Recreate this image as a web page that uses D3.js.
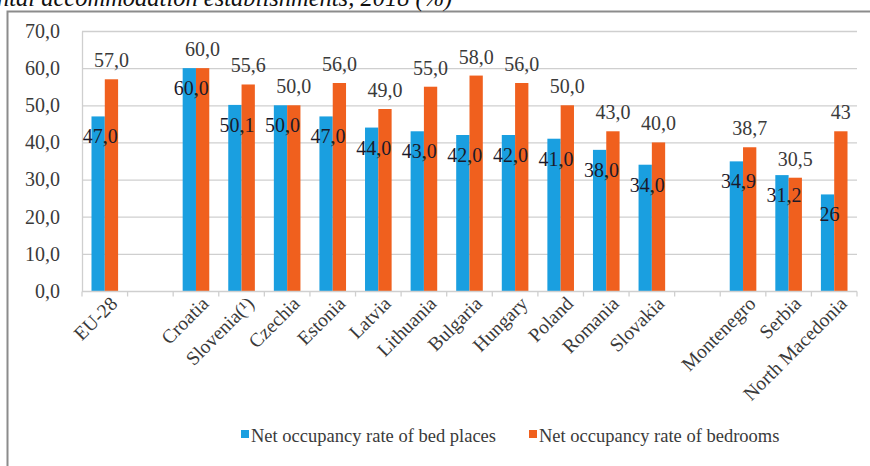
<!DOCTYPE html>
<html>
<head>
<meta charset="utf-8">
<script src="https://cdn.jsdelivr.net/npm/d3@7"></script>
<style>
  html, body { margin: 0; padding: 0; background: #fff; }
  svg text { font-family: "Liberation Serif", "Times New Roman", serif; }
</style>
</head>
<body>
<svg id="chart" width="870" height="466"></svg>
<script>
// Categories in display order; empty strings leave a gap between groups.
const categories = ["EU-28", "", "Croatia", "Slovenia(\u00B9)", "Czechia", "Estonia", "Latvia",
  "Lithuania", "Bulgaria", "Hungary", "Poland", "Romania", "Slovakia", "",
  "Montenegro", "Serbia", "North Macedonia"];
const bedPlaces = [47.0, null, 60.0, 50.1, 50.0, 47.0, 44.0, 43.0, 42.0, 42.0, 41.0, 38.0, 34.0, null, 34.9, 31.2, 26];
const bedrooms  = [57.0, null, 60.0, 55.6, 50.0, 56.0, 49.0, 55.0, 58.0, 56.0, 50.0, 43.0, 40.0, null, 38.7, 30.5, 43];
// Decimal places shown in each category's value labels.
const labelDecimals = [1, 1, 1, 1, 1, 1, 1, 1, 1, 1, 1, 1, 1, 1, 1, 1, 0];
const yTicks = [0, 10, 20, 30, 40, 50, 60, 70];
const seriesNames = ["Net occupancy rate of bed places", "Net occupancy rate of bedrooms"];

const colors = ["#1a9fe0", "#f0601e"];
const FONT = "Liberation Serif, Times New Roman, serif";
const svg = d3.select("#chart");

const plot = { left: 82, right: 857, top: 31, bottom: 291 };

const fmt = (v, d) => v.toFixed(d).replace(".", ",");

// Outer chart frame
svg.append("rect")
  .attr("x", 7.5).attr("y", 11.5).attr("width", 900).attr("height", 500)
  .attr("fill", "#fff").attr("stroke", "#8c8c8c").attr("stroke-width", 2);

// Heading, partly above the frame
svg.append("text")
  .attr("x", -3).attr("y", 6)
  .attr("font-family", FONT)
  .attr("font-size", 24.5).attr("font-style", "italic").attr("fill", "#111")
  .text("ntal  accommodation establishments, 2018 (%)");

const x = d3.scaleBand().domain(d3.range(categories.length)).range([plot.left, plot.right]).padding(0);
const y = d3.scaleLinear().domain([0, 70]).range([plot.bottom, plot.top]);
const barW = 13.3;

// Gridlines
svg.append("g").selectAll("line").data(yTicks.filter(t => t > 0)).join("line")
  .attr("x1", plot.left).attr("x2", plot.right)
  .attr("y1", d => y(d) + 0.5).attr("y2", d => y(d) + 0.5)
  .attr("stroke", "#cfcfcf").attr("stroke-width", 1.3);

// Y axis
const yAxis = svg.append("g").attr("transform", `translate(${plot.left},0)`)
  .call(d3.axisLeft(y).tickValues(yTicks).tickSize(0).tickPadding(22).tickFormat(d => fmt(d, 1)));
yAxis.attr("font-family", FONT);
yAxis.select(".domain").attr("stroke", "#cfcfcf").attr("stroke-width", 1.3);
yAxis.selectAll("text").attr("font-size", 20).attr("fill", "#3a3a3a");

// Bars
const idx = d3.range(categories.length).filter(i => bedPlaces[i] != null);
const gBars = svg.append("g");
gBars.selectAll("rect.bed").data(idx).join("rect").attr("class", "bed")
  .attr("x", i => x(i) + x.bandwidth() / 2 - barW)
  .attr("width", barW)
  .attr("y", i => y(bedPlaces[i]))
  .attr("height", i => y(0) - y(bedPlaces[i]))
  .attr("fill", colors[0]);
gBars.selectAll("rect.room").data(idx).join("rect").attr("class", "room")
  .attr("x", i => x(i) + x.bandwidth() / 2)
  .attr("width", barW)
  .attr("y", i => y(bedrooms[i]))
  .attr("height", i => y(0) - y(bedrooms[i]))
  .attr("fill", colors[1]);

// X axis line and ticks
const gx = svg.append("g").attr("transform", `translate(0,${plot.bottom + 0.5})`);
gx.append("line").attr("x1", plot.left).attr("x2", plot.right)
  .attr("stroke", "#cfcfcf").attr("stroke-width", 1.3);
gx.selectAll("line.tick").data(d3.range(categories.length + 1)).join("line").attr("class", "tick")
  .attr("x1", i => plot.left + i * x.bandwidth()).attr("x2", i => plot.left + i * x.bandwidth())
  .attr("y1", 0).attr("y2", 5).attr("stroke", "#cfcfcf").attr("stroke-width", 1.3);

// Category labels
svg.append("g").attr("font-family", FONT)
  .selectAll("text").data(d3.range(categories.length).filter(i => categories[i])).join("text")
  .attr("transform", i => `translate(${x(i) + x.bandwidth() / 2 + 9},${plot.bottom + 9}) rotate(-45)`)
  .attr("text-anchor", "end").attr("dy", "0.35em")
  .attr("font-size", 19.5).attr("fill", "#3a3a3a")
  .text(i => categories[i]);

// Value labels
const gLab = svg.append("g").attr("font-family", FONT).attr("font-size", 20).attr("text-anchor", "middle");
gLab.selectAll("text.bed").data(idx).join("text").attr("class", "bed")
  .attr("x", i => x(i) + x.bandwidth() / 2 - barW / 2 + 2)
  .attr("y", i => y(bedPlaces[i]) + 27)
  .attr("fill", "#1a1a2a")
  .text(i => fmt(bedPlaces[i], labelDecimals[i]));
gLab.selectAll("text.room").data(idx).join("text").attr("class", "room")
  .attr("x", i => x(i) + x.bandwidth() / 2 + barW / 2)
  .attr("y", i => y(bedrooms[i]) - 12)
  .attr("fill", "#3a3a3a")
  .text(i => fmt(bedrooms[i], labelDecimals[i]));

// Legend
const legend = svg.append("g").attr("font-family", FONT).attr("transform", "translate(241,442)");
const items = legend.selectAll("g").data(seriesNames).join("g")
  .attr("transform", (d, i) => `translate(${i * 288},0)`);
items.append("rect").attr("x", 0).attr("y", -12).attr("width", 8).attr("height", 8)
  .attr("fill", (d, i) => colors[i]);
items.append("text").attr("x", 10).attr("y", 0).attr("font-size", 18.5).attr("fill", "#3a3a3a")
  .text(d => d);
</script>
</body>
</html>
